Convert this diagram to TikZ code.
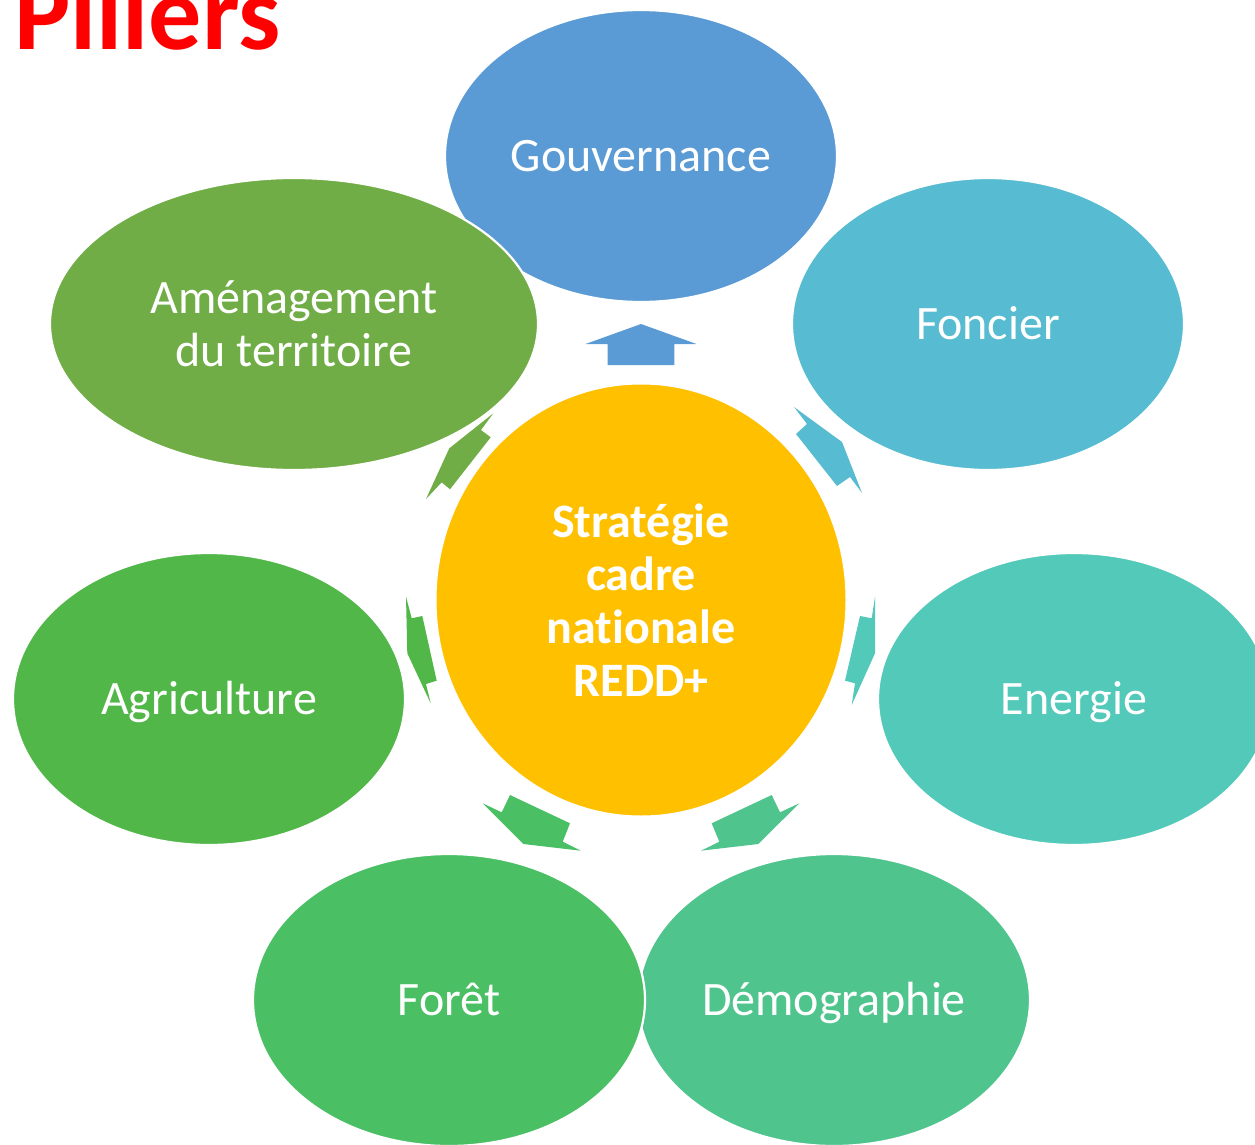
\documentclass[tikz,border=0pt]{standalone}
\usepackage{fontspec}
\setmainfont[Ligatures={NoCommon}]{Carlito}
\usetikzlibrary{shapes.geometric}
\definecolor{cGouv}{HTML}{5B9BD5}
\definecolor{cFonc}{HTML}{57BCD1}
\definecolor{cEner}{HTML}{53C9B9}
\definecolor{cDemo}{HTML}{50C48D}
\definecolor{cFore}{HTML}{4ABF64}
\definecolor{cAgri}{HTML}{52B749}
\definecolor{cAmen}{HTML}{70AD47}
\definecolor{cCentre}{HTML}{FFC000}
\begin{document}
\begin{tikzpicture}[x=1pt,y=-1pt,
  petal/.style={ellipse, draw=white, line width=2.2pt, text=white,
    font=\fontsize{48}{53}\selectfont, align=center, inner sep=0pt,
    minimum width=392pt, minimum height=292pt},
  oneline/.style={text height=31pt, text depth=0pt}]
\useasboundingbox (0,0) rectangle (1255,1145);
\clip (0,0) rectangle (1255,1145);

\node[anchor=base west, text=red, inner sep=0pt,
  font=\bfseries\fontsize{106}{112}\selectfont] (title) at (14,50) {Piliers};

\node[petal, oneline, fill=cGouv] (gouv) at (641,156) {Gouvernance};
\node[petal, oneline, fill=cFonc] (fonc) at (988,324) {Foncier};
\node[petal, oneline, fill=cEner] (ener) at (1074,699) {Energie};
\node[petal, oneline, fill=cDemo] (demo) at (834,1000) {Démographie};
\node[petal, oneline, fill=cFore] (fore) at (449,1000) {Forêt};
\node[petal, oneline, fill=cAgri] (agri) at (209,699) {Agriculture};
\node[petal, fill=cAmen, minimum width=488pt] (amen) at (294,324) {Aménagement\\du territoire};

\node[ellipse, fill=cCentre, draw=white, line width=1pt, minimum width=410pt, minimum height=432pt,
  inner sep=0pt, align=center, text=white,
  font=\bfseries\fontsize{48}{53}\selectfont] (c) at (641,600)
  {Stratégie\\cadre\\nationale\\REDD+};

\begin{scope}[shift={(c.center)}]
  % vers Gouvernance
  \fill[cGouv] (0,-276) -- (55.5,-256) -- (33.3,-256) -- (33.3,-235)
    -- (-33.3,-235) -- (-33.3,-256) -- (-55.5,-256) -- cycle;
  % vers Foncier
  \fill[cFonc] (153,-193) -- (201,-158) -- (221,-107) -- (209,-123)
    -- (196,-114) -- (155,-166) -- (166,-176) -- cycle;
  % vers Aménagement
  \fill[cAmen] (-147.7,-186.7) -- (-191.7,-151.7) -- (-215,-101) -- (-199.3,-117.7)
    -- (-191,-110.7) -- (-150.3,-162.7) -- (-160,-170) -- cycle;
  % vers Agriculture
  \fill[cAgri] (-235,-3.3) -- (-229.3,18.3) -- (-218.7,16) -- (-204.3,80.7)
    -- (-215,84) -- (-210.3,103.3) -- (-233.7,53.3) -- cycle;
  % vers Energie
  \fill[cEner] (234,-3.3) -- (230.7,18.3) -- (219,16) -- (204,80.7)
    -- (214,83.3) -- (210.7,105) -- (234,53.3) -- cycle;
  % vers Forêt
  \fill[cFore] (-158.3,203.3) -- (-139.3,212.3) -- (-131,195) -- (-71,223.3)
    -- (-78.3,241.7) -- (-60.3,250.7) -- (-117.7,244) -- cycle;
  % vers Démographie
  \fill[cDemo] (158.3,203.3) -- (139,212.3) -- (130.7,195) -- (70.7,223.3)
    -- (78.3,241.7) -- (60,250.7) -- (117.3,244) -- cycle;
\end{scope}
\end{tikzpicture}
\end{document}
